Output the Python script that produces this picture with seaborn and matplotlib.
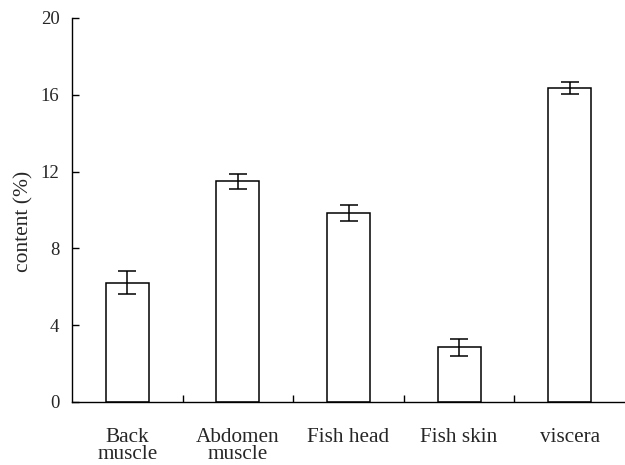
import matplotlib
matplotlib.use("Agg")
import matplotlib.pyplot as plt
import seaborn as sns
import pandas as pd
import numpy as np

# Tissue lipid content with standard deviations
tissues = ["Back\nmuscle", "Abdomen\nmuscle", "Fish head", "Fish skin", "viscera"]
content = [6.2, 11.5, 9.85, 2.85, 16.35]
std_dev = [0.6, 0.4, 0.4, 0.45, 0.33]
y_ticks = [0, 4, 8, 12, 16, 20]

sns.set_style("white")
plt.rcParams["font.family"] = ["Liberation Serif", "DejaVu Serif"]
plt.rcParams["font.size"] = 13

df = pd.DataFrame({"tissue": tissues, "content": content})

fig = plt.figure(figsize=(6.25, 4.65), dpi=100)
ax = fig.add_axes([0.1152, 0.1355, 0.8848, 0.8258])

sns.barplot(data=df, x="tissue", y="content", ax=ax, width=0.39,
            color="white", edgecolor="black", linewidth=1.1, errorbar=None)
ax.errorbar(np.arange(len(tissues)), content, yerr=std_dev, fmt="none",
            ecolor="black", elinewidth=1.1, capsize=6.5, capthick=1.1)

ax.set_xlim(-0.5, 4.5)
ax.set_ylim(0, 20)
ax.set_yticks(y_ticks)
ax.set_ylabel("content (%)", fontsize=15.5, labelpad=3)
ax.yaxis.set_label_coords(-0.07, 0.47)
ax.set_xlabel("")

for side in ["top", "right"]:
    ax.spines[side].set_visible(False)
for side in ["left", "bottom"]:
    ax.spines[side].set_color("black")
    ax.spines[side].set_linewidth(1.0)

ax.tick_params(axis="y", direction="in", length=5, width=1.0, color="black",
               left=True, pad=9, labelsize=13.5)
# category labels sit between boundary ticks
ax.tick_params(axis="x", which="major", length=0, pad=18.5, labelsize=15.3)
ax.set_xticks(np.arange(0.5, 4.0, 1.0), minor=True)
ax.tick_params(axis="x", which="minor", direction="in", length=5, width=1.0,
               color="black", bottom=True)
for lab in ax.get_xticklabels():
    lab.set_linespacing(0.85)

fig.savefig("out.png", dpi=100)
